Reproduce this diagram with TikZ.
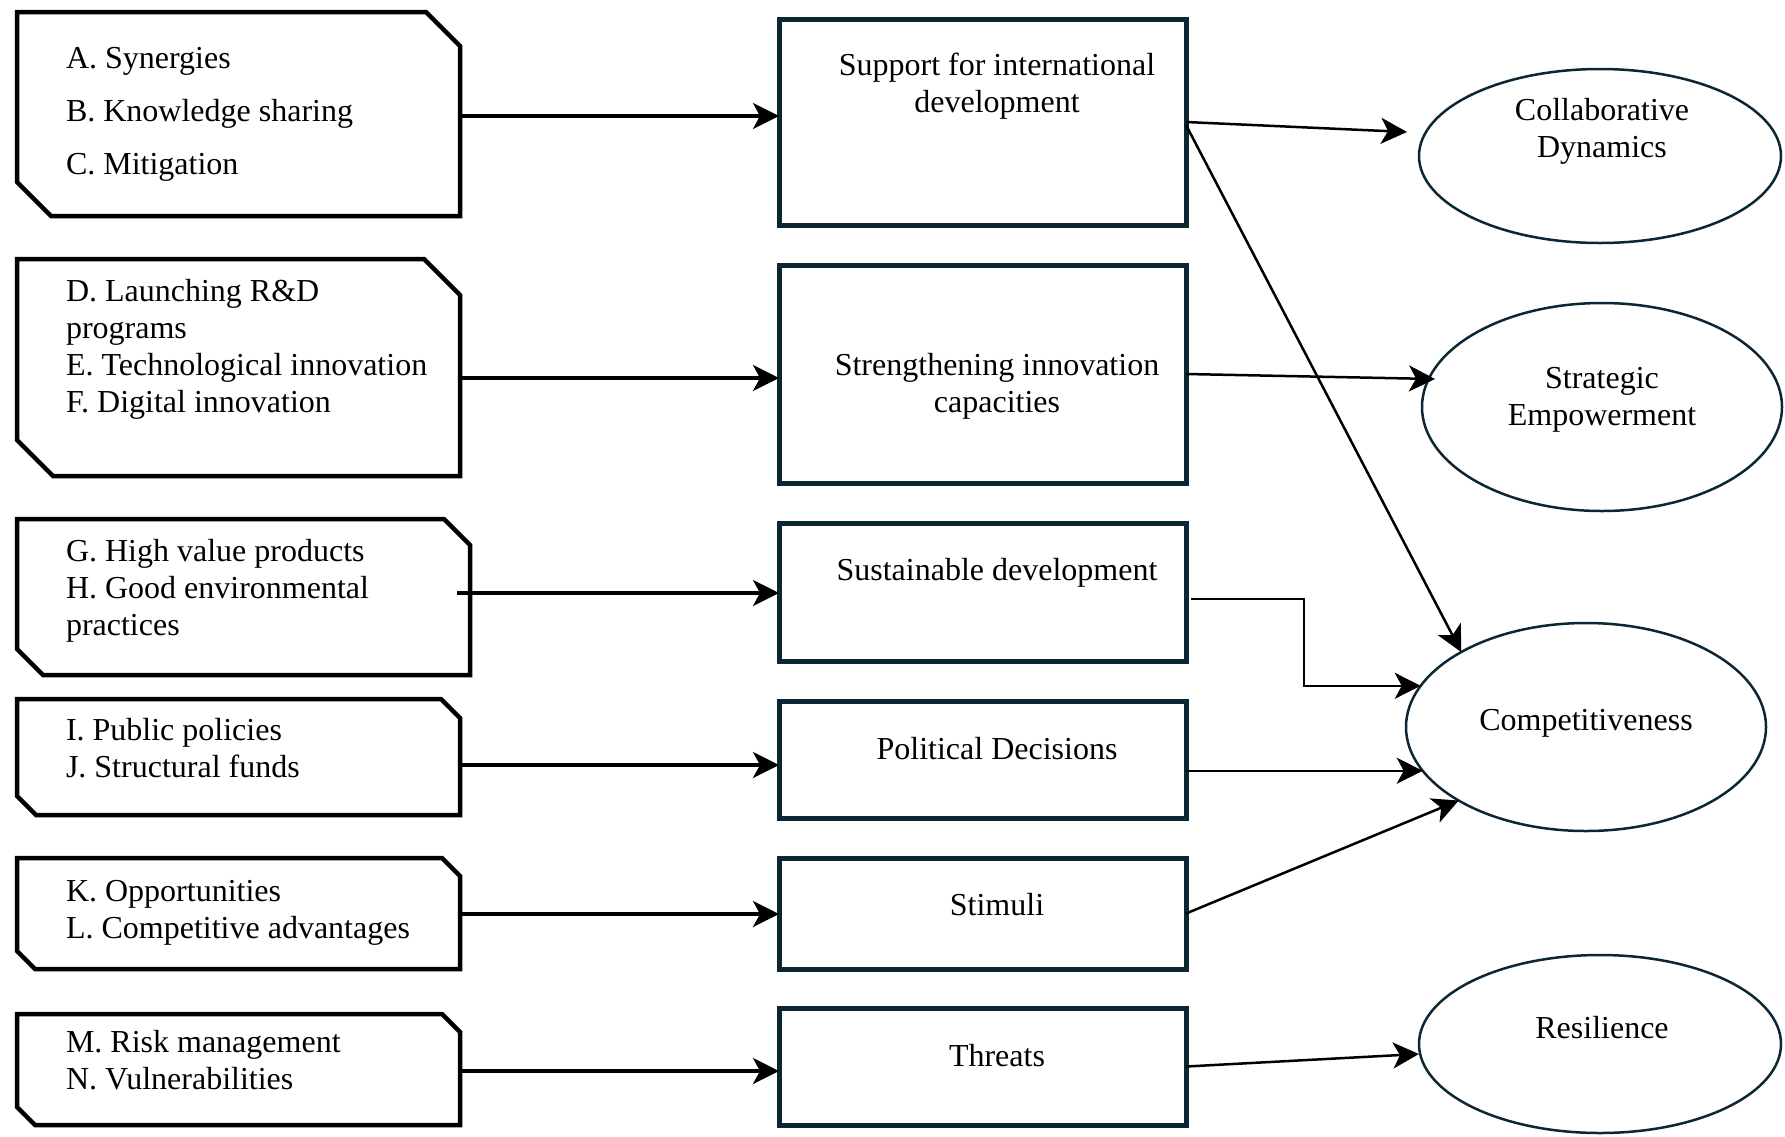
\documentclass[tikz,border=0pt]{standalone}
\usepackage{fontspec}
\setmainfont{Liberation Serif}
\usetikzlibrary{arrows.meta,calc,shapes.geometric}
\definecolor{navy}{HTML}{0C2634}

% chamfered outline (top-right and bottom-left corners cut) around a frame node
\newcommand\chamferframe[2]{%
  \draw[leftline,fill=white] (#1.north west) -- ([xshift=-#2pt]#1.north east)
    -- ([yshift=-#2pt]#1.north east) -- (#1.south east)
    -- ([xshift=#2pt]#1.south west) -- ([yshift=#2pt]#1.south west) -- cycle;}

\begin{document}
\begin{tikzpicture}[x=1pt,y=-1pt,
  every node/.style={inner sep=0pt,outer sep=0pt},
  txt/.style={font=\fontsize{32}{37}\selectfont},
  frame/.style={rectangle,draw=none},
  leftline/.style={draw=black,line width=4.5pt,line join=miter},
  midbox/.style={rectangle,draw=navy,fill=white,line width=5pt},
  oval/.style={ellipse,draw=navy,fill=white,line width=2.5pt},
  tip/.style={-{Stealth[length=26pt,width=26pt,inset=7pt]}},
  larrow/.style={tip,line width=3.5pt,black},
  rarrow/.style={tip,line width=2.5pt,black}]

\useasboundingbox (0,0) rectangle (1785,1136);

% ---- left column: factor groups ----
\node[frame,minimum width=443pt,minimum height=204pt] (L1) at (238.5,114) {};
\node[frame,minimum width=443pt,minimum height=217pt] (L2) at (238.5,367.5) {};
\node[frame,minimum width=453pt,minimum height=156pt] (L3) at (243.5,597) {};
\node[frame,minimum width=443pt,minimum height=116pt] (L4) at (238.5,757) {};
\node[frame,minimum width=443pt,minimum height=111pt] (L5) at (238.5,913.5) {};
\node[frame,minimum width=443pt,minimum height=111pt] (L6) at (238.5,1069.5) {};
\chamferframe{L1}{34}
\chamferframe{L2}{36}
\chamferframe{L3}{26}
\chamferframe{L4}{19}
\chamferframe{L5}{18}
\chamferframe{L6}{18}

% multi-line texts are placed by the baseline of their last line
\node[txt,anchor=base west,align=left] (tL1) at (66,174)
  {A. Synergies\\[16pt]B. Knowledge sharing\\[16pt]C. Mitigation};
\node[txt,anchor=base west,align=left] (tL2) at (66,412)
  {D. Launching R\&D\\programs\\E. Technological innovation\\F. Digital innovation};
\node[txt,anchor=base west,align=left] (tL3) at (66,635)
  {G. High value products\\H. Good environmental\\practices};
\node[txt,anchor=base west,align=left] (tL4) at (66,777)
  {I. Public policies\\J. Structural funds};
\node[txt,anchor=base west,align=left] (tL5) at (66,938)
  {K. Opportunities\\L. Competitive advantages};
\node[txt,anchor=base west,align=left] (tL6) at (66,1089)
  {M. Risk management\\N. Vulnerabilities};

% ---- middle column: mechanisms ----
\node[midbox,minimum width=407pt,minimum height=206pt] (M1) at (982.5,122) {};
\node[midbox,minimum width=407pt,minimum height=218pt] (M2) at (982.5,374) {};
\node[midbox,minimum width=407pt,minimum height=138pt] (M3) at (982.5,592) {};
\node[midbox,minimum width=407pt,minimum height=117pt] (M4) at (982.5,759.5) {};
\node[midbox,minimum width=407pt,minimum height=111pt] (M5) at (982.5,913.5) {};
\node[midbox,minimum width=407pt,minimum height=117pt] (M6) at (982.5,1066.5) {};

\node[txt,anchor=base,align=center] (tM1) at (997,112) {Support for international\\development};
\node[txt,anchor=base,align=center] (tM2) at (997,412) {Strengthening innovation\\capacities};
\node[txt,anchor=base] (tM3) at (997,580) {Sustainable development};
\node[txt,anchor=base] (tM4) at (997,759) {Political Decisions};
\node[txt,anchor=base] (tM5) at (997,915) {Stimuli};
\node[txt,anchor=base] (tM6) at (997,1066) {Threats};

% ---- right column: outcomes ----
\node[oval,minimum width=362pt,minimum height=174pt] (E1) at (1600,156) {};
\node[oval,minimum width=360pt,minimum height=208pt] (E2) at (1602,407) {};
\node[oval,minimum width=360pt,minimum height=208pt] (E3) at (1586,727) {};
\node[oval,minimum width=362pt,minimum height=178pt] (E4) at (1600,1044) {};

\node[txt,anchor=base,align=center] (tE1) at (1602,157) {Collaborative\\Dynamics};
\node[txt,anchor=base,align=center] (tE2) at (1602,425) {Strategic\\Empowerment};
\node[txt,anchor=base] (tE3) at (1586,730) {Competitiveness};
\node[txt,anchor=base] (tE4) at (1602,1038) {Resilience};

% ---- connectors: factors to mechanisms ----
\coordinate (r1) at (0,116);
\coordinate (r2) at (0,378);
\coordinate (r3) at (0,593);
\coordinate (r4) at (0,765);
\coordinate (r5) at (0,914);
\coordinate (r6) at (0,1071);
\draw[larrow] (L1.east |- r1) -- (M1.west |- r1);
\draw[larrow] (L2.east |- r2) -- (M2.west |- r2);
\draw[larrow] ($(L3.east |- r3)+(-13,0)$) -- (M3.west |- r3);
\draw[larrow] (L4.east |- r4) -- (M4.west |- r4);
\draw[larrow] (L5.east |- r5) -- (M5.west |- r5);
\draw[larrow] (L6.east |- r6) -- (M6.west |- r6);

% ---- connectors: mechanisms to outcomes ----
\draw[rarrow] (M1.east) -- ([xshift=-12pt,yshift=24pt]E1.west);
\draw[rarrow] ([yshift=-3pt]M1.east) -- (E3.149);
\draw[rarrow] (M2.east) -- ([xshift=13pt,yshift=28pt]E2.west);
\draw[rarrow] ([xshift=5pt,yshift=-7pt]M3.east) -- ++(113,0) |- (E3.166);
\draw[rarrow] (M4.east |- E3.195) -- (E3.195);
\draw[rarrow] (M5.east) -- (E3.210);
\draw[rarrow] (M6.east) -- ([yshift=-10pt]E4.west);

\end{tikzpicture}
\end{document}
